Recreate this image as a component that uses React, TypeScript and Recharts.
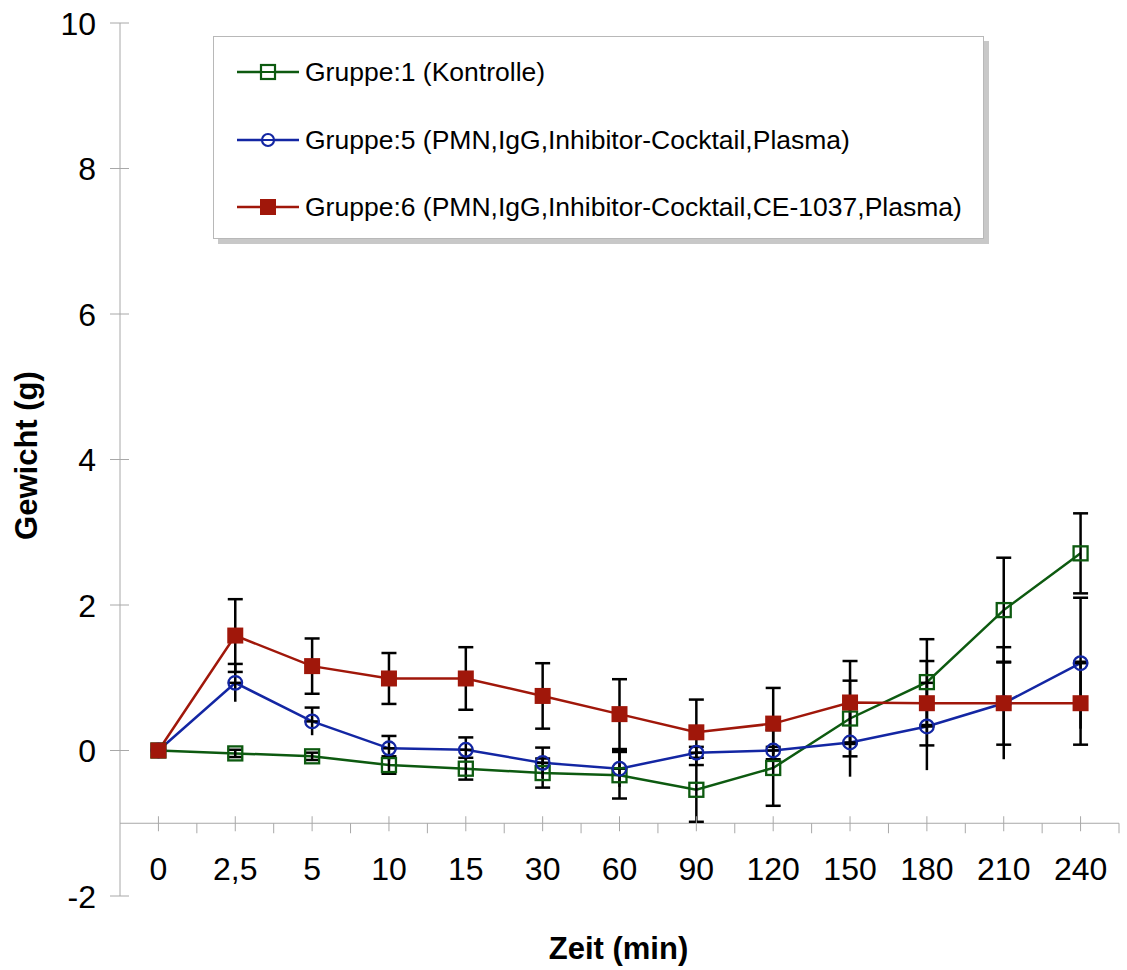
import React from 'react';
import { LineChart, Line, XAxis, YAxis, ErrorBar, ReferenceLine, Legend, Label } from 'recharts';

// ---------- data ----------
const categories = ['0', '2,5', '5', '10', '15', '30', '60', '90', '120', '150', '180', '210', '240'];

const gruppe1 = [0, -0.04, -0.08, -0.2, -0.25, -0.31, -0.34, -0.54, -0.24, 0.44, 0.94, 1.93, 2.71];
const gruppe1Err = [0, 0.05, 0.05, 0.12, 0.15, 0.2, 0.32, 0.44, 0.52, 0.52, 0.59, 0.72, 0.55];

const gruppe5 = [0, 0.93, 0.4, 0.03, 0.01, -0.17, -0.25, -0.03, 0.0, 0.11, 0.33, 0.65, 1.2];
const gruppe5Err = [0, 0.26, 0.19, 0.17, 0.17, 0.21, 0.25, 0.08, 0.05, 0.47, 0.6, 0.77, 0.9];

const gruppe6 = [0, 1.58, 1.16, 0.99, 0.99, 0.75, 0.5, 0.25, 0.37, 0.66, 0.65, 0.65, 0.65];
const gruppe6Err = [0, 0.5, 0.38, 0.35, 0.43, 0.45, 0.48, 0.45, 0.49, 0.57, 0.58, 0.57, 0.57];

const yTicks = [-2, 0, 2, 4, 6, 8, 10];
const yDomain: [number, number] = [-2, 10];
const xCrossValue = -1;

const seriesNames = [
  'Gruppe:1 (Kontrolle)',
  'Gruppe:5 (PMN,IgG,Inhibitor-Cocktail,Plasma)',
  'Gruppe:6 (PMN,IgG,Inhibitor-Cocktail,CE-1037,Plasma)',
];

const data = categories.map((t, i) => ({
  t,
  g1: gruppe1[i],
  g1e: gruppe1Err[i],
  g5: gruppe5[i],
  // blue error bars: capped above, uncapped below
  g5up: [0, gruppe5Err[i]],
  g5dn: [gruppe5Err[i], 0],
  g6: gruppe6[i],
  g6e: gruppe6Err[i],
}));

// ---------- layout / style ----------
const W = 1127;
const H = 970;
const MARGIN = { top: 23, right: 8, left: 20, bottom: 0 };
const Y_AXIS_W = 100;
const X_AXIS_H = 74;
const PLOT_LEFT = MARGIN.left + Y_AXIS_W;
const PLOT_RIGHT = W - MARGIN.right;
const PLOT_TOP = MARGIN.top;
const PLOT_BOTTOM = H - MARGIN.bottom - X_AXIS_H;
const BAND = (PLOT_RIGHT - PLOT_LEFT) / categories.length;
const CROSS_Y = PLOT_TOP + ((yDomain[1] - xCrossValue) / (yDomain[1] - yDomain[0])) * (PLOT_BOTTOM - PLOT_TOP);

const FONT = '"Liberation Sans", Arial, Helvetica, sans-serif';
const AXIS_COLOR = '#a8a8a8';
const GREEN = '#0d5a10';
const BLUE = '#1326a3';
const RED = '#a0170a';
const LINE_W = 2.5;
const CAP_HALF = 7.5;

const GreenSquare = (p: any) => {
  const { cx, cy } = p;
  if (cx == null || cy == null) return null;
  return <rect x={cx - 7} y={cy - 7} width={14} height={14} fill="none" stroke={GREEN} strokeWidth={2.3} />;
};
const BlueCircle = (p: any) => {
  const { cx, cy } = p;
  if (cx == null || cy == null) return null;
  return <circle cx={cx} cy={cy} r={6.8} fill="none" stroke={BLUE} strokeWidth={2.3} />;
};
const RedSquare = (p: any) => {
  const { cx, cy } = p;
  if (cx == null || cy == null) return null;
  return <rect x={cx - 8} y={cy - 8} width={16} height={16} fill={RED} stroke="none" />;
};

const XTick = (props: any) => {
  const { x, payload } = props;
  return (
    <g>
      <line x1={x} x2={x} y1={CROSS_Y - 7} y2={CROSS_Y + 8} stroke={AXIS_COLOR} strokeWidth={1} />
      <line x1={x + BAND / 2} x2={x + BAND / 2} y1={CROSS_Y} y2={CROSS_Y + 10} stroke={AXIS_COLOR} strokeWidth={1} />
      <text x={x} y={CROSS_Y + 57} textAnchor="middle" fontSize={32} fontFamily={FONT} fill="#000">
        {payload.value}
      </text>
    </g>
  );
};

const YTick = (props: any) => {
  const { y, payload } = props;
  return (
    <g>
      <line x1={PLOT_LEFT - 10} x2={PLOT_LEFT + 9} y1={y} y2={y} stroke={AXIS_COLOR} strokeWidth={1} />
      <text x={PLOT_LEFT - 24} y={y} dy="0.36em" textAnchor="end" fontSize={32} fontFamily={FONT} fill="#000">
        {payload.value}
      </text>
    </g>
  );
};

const legendItems = [
  { name: seriesNames[0], color: GREEN, kind: 'openSquare' },
  { name: seriesNames[1], color: BLUE, kind: 'circle' },
  { name: seriesNames[2], color: RED, kind: 'filledSquare' },
];

const LegendBox = () => (
  <div
    style={{
      position: 'relative',
      width: 771,
      height: 203,
      background: '#fff',
      border: '1px solid #b8b8b8',
      boxShadow: '5px 5px 0 #c8c8c8',
      boxSizing: 'border-box',
      fontFamily: FONT,
    }}
  >
    {legendItems.map((it, i) => (
      <div
        key={it.name}
        style={{
          position: 'absolute',
          left: 23,
          top: 35 + i * 67.5 - 15,
          height: 30,
          display: 'flex',
          alignItems: 'center',
          whiteSpace: 'nowrap',
        }}
      >
        <svg width={62} height={30} style={{ display: 'block' }}>
          <line x1={0} x2={62} y1={15} y2={15} stroke={it.color} strokeWidth={2.5} />
          {it.kind === 'openSquare' && (
            <rect x={24} y={8} width={14} height={14} fill="#fff" stroke={it.color} strokeWidth={2.2} />
          )}
          {it.kind === 'openSquare' && <line x1={24} x2={38} y1={15} y2={15} stroke={it.color} strokeWidth={2} />}
          {it.kind === 'circle' && <circle cx={31} cy={15} r={6} fill="#fff" stroke={it.color} strokeWidth={2.2} />}
          {it.kind === 'circle' && <line x1={25} x2={37} y1={15} y2={15} stroke={it.color} strokeWidth={2} />}
          {it.kind === 'filledSquare' && <rect x={23} y={7} width={16} height={16} fill={it.color} />}
        </svg>
        <span style={{ fontSize: 26.5, color: '#000', marginLeft: 6, lineHeight: '30px' }}>{it.name}</span>
      </div>
    ))}
  </div>
);

export default function App() {
  return (
    <div style={{ position: 'absolute', left: 0, top: 0, width: W, height: H, background: '#fff' }}>
      <LineChart width={W} height={H} data={data} margin={MARGIN}>
        <XAxis
          dataKey="t"
          type="category"
          scale="band"
          interval={0}
          height={X_AXIS_H}
          axisLine={false}
          tickLine={false}
          tick={<XTick />}
        >
          <Label
            content={(p: any) => {
              const vb = p.viewBox || {};
              return (
                <text
                  x={vb.x + vb.width / 2 - 1}
                  y={vb.y + 63}
                  textAnchor="middle"
                  fontSize={31}
                  fontWeight="bold"
                  fontFamily={FONT}
                  fill="#000"
                >
                  Zeit (min)
                </text>
              );
            }}
          />
        </XAxis>
        <YAxis
          type="number"
          domain={yDomain}
          ticks={yTicks}
          interval={0}
          width={Y_AXIS_W}
          axisLine={{ stroke: AXIS_COLOR, strokeWidth: 1 }}
          tickLine={false}
          tick={<YTick />}
        >
          <Label
            content={(p: any) => {
              const vb = p.viewBox || {};
              const cx = vb.x + 17;
              const cy = vb.y + vb.height / 2 - 4;
              return (
                <text
                  x={cx}
                  y={cy}
                  transform={`rotate(-90 ${cx} ${cy})`}
                  textAnchor="middle"
                  fontSize={31}
                  fontWeight="bold"
                  fontFamily={FONT}
                  fill="#000"
                >
                  Gewicht (g)
                </text>
              );
            }}
          />
        </YAxis>
        <ReferenceLine y={xCrossValue} stroke={AXIS_COLOR} strokeWidth={1} />
        <Legend
          layout="vertical"
          verticalAlign="middle"
          align="center"
          wrapperStyle={{ left: 213, top: 36, width: 776, height: 210 }}
          content={() => <LegendBox />}
        />
        <Line
          dataKey="g1"
          name={seriesNames[0]}
          stroke={GREEN}
          strokeWidth={LINE_W}
          dot={<GreenSquare />}
          activeDot={false}
          isAnimationActive={false}
        />
        <Line
          dataKey="g5"
          name={seriesNames[1]}
          stroke={BLUE}
          strokeWidth={LINE_W}
          dot={<BlueCircle />}
          activeDot={false}
          isAnimationActive={false}
        />
        <Line dataKey="g1" stroke="none" dot={false} activeDot={false} legendType="none" isAnimationActive={false}>
          <ErrorBar dataKey="g1e" width={CAP_HALF} strokeWidth={2.5} stroke="#000" direction="y" />
        </Line>
        <Line dataKey="g5" stroke="none" dot={false} activeDot={false} legendType="none" isAnimationActive={false}>
          <ErrorBar dataKey="g5up" width={CAP_HALF} strokeWidth={2.5} stroke="#000" direction="y" />
          <ErrorBar dataKey="g5dn" width={0} strokeWidth={2.5} stroke="#000" direction="y" />
        </Line>
        <Line dataKey="g6" stroke="none" dot={false} activeDot={false} legendType="none" isAnimationActive={false}>
          <ErrorBar dataKey="g6e" width={CAP_HALF} strokeWidth={2.5} stroke="#000" direction="y" />
        </Line>
        <Line
          dataKey="g6"
          name={seriesNames[2]}
          stroke={RED}
          strokeWidth={LINE_W}
          dot={<RedSquare />}
          activeDot={false}
          isAnimationActive={false}
        />
      </LineChart>
    </div>
  );
}
